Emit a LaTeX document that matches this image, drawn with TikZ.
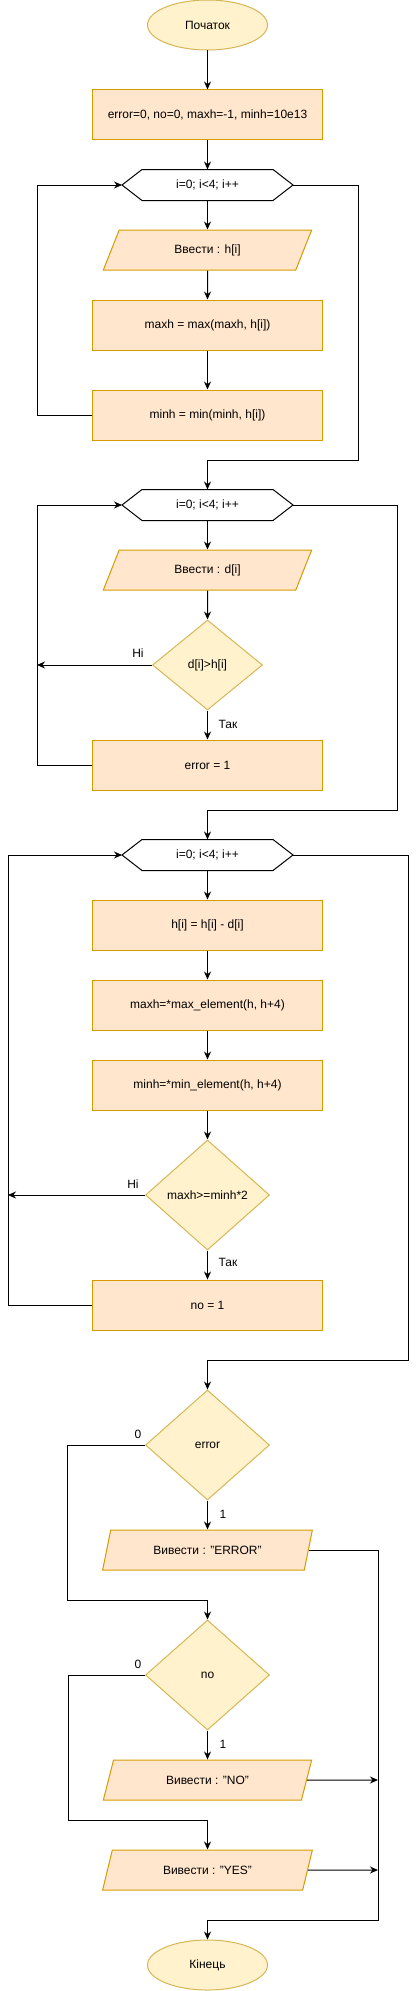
\documentclass[tikz,border=0pt]{standalone}
\usepackage{fontspec}
\setmainfont{Liberation Sans}
\usetikzlibrary{shapes.geometric,arrows.meta}
\definecolor{pfill}{HTML}{FFE6CC}
\definecolor{pline}{HTML}{D79B00}
\definecolor{cfill}{HTML}{FFF2CC}
\definecolor{cline}{HTML}{D6B656}
\begin{document}
\begin{tikzpicture}[x=1pt,y=-1pt,line width=1pt,>={Stealth[length=8pt,width=7pt]},
	every node/.style={font=\fontsize{12}{14}\selectfont,inner sep=0pt},
	term/.style={ellipse,draw=cline,fill=cfill,minimum width=120pt,minimum height=50pt},
	proc/.style={rectangle,draw=pline,fill=pfill,minimum width=230pt,minimum height=50pt},
	io/.style={trapezium,trapezium left angle=62,trapezium right angle=118,trapezium stretches=true,draw=pline,fill=pfill,minimum width=210pt,minimum height=40pt},
	cond/.style={diamond,draw=cline,fill=cfill,minimum width=124pt,minimum height=110pt},
	cyc/.style={rectangle,minimum width=170pt,minimum height=30pt}]
\useasboundingbox (0,0) rectangle (418,1991);
\node [term] (st) at (207.5,25) {Початок};
\node [proc] (ini) at (207.5,115) {error=0, no=0, maxh=-1, minh=10e13};
\node [cyc] (f1) at (207.5,185) {i=0; i<4; i++};
\node [io] (in1) at (207.5,250) {Ввести : h[i]};
\node [proc] (mx1) at (207.5,325) {maxh = max(maxh, h[i])};
\node [proc] (mn1) at (207.5,415) {minh = min(minh, h[i])};
\node [cyc] (f2) at (207.5,505) {i=0; i<4; i++};
\node [io] (in2) at (207.5,570) {Ввести : d[i]};
\node [cond,minimum width=110pt,minimum height=90pt] (c1) at (207.5,665) {d[i]>h[i]};
\node [proc] (er) at (207.5,765) {error = 1};
\node [cyc] (f3) at (207.5,855) {i=0; i<4; i++};
\node [proc] (sub) at (207.5,925) {h[i] = h[i] - d[i]};
\node [proc] (mx2) at (207.5,1005) {maxh=*max\_element(h, h+4)};
\node [proc] (mn2) at (207.5,1085) {minh=*min\_element(h, h+4)};
\node [cond] (c2) at (207.5,1195) {maxh>=minh*2};
\node [proc] (no) at (207.5,1305) {no = 1};
\node [cond] (c3) at (207.5,1445) {error};
\node [io] (oe) at (207.5,1550) {Вивести : "ERROR"};
\node [cond] (c4) at (207.5,1675) {no};
\node [io] (ono) at (207.5,1780) {Вивести : "NO"};
\node [io] (oy) at (207.5,1870) {Вивести : "YES"};
\node [term] (en) at (207.5,1965) {Кінець};
\foreach \h in {f1,f2,f3}
	\draw (\h.west) -- ([xshift=20pt]\h.north west) -- ([xshift=-20pt]\h.north east) -- (\h.east)
		-- ([xshift=-20pt]\h.south east) -- ([xshift=20pt]\h.south west) -- cycle;
\node (l1) at ([shift={(-14,-12)}]c1.west) {Ні};
\node (l2) at ([shift={(20.5,14)}]c1.south) {Так};
\node (l3) at ([shift={(-12,-11)}]c2.west) {Ні};
\node (l4) at ([shift={(20.5,12)}]c2.south) {Так};
\node (l5) at ([shift={(-7,-11)}]c3.west) {0};
\node (l6) at ([shift={(15.5,14)}]c3.south) {1};
\node (l7) at ([shift={(-7,-11)}]c4.west) {0};
\node (l8) at ([shift={(15.5,14)}]c4.south) {1};
\coordinate (r1) at (378,1780);
\coordinate (r2) at (378,1870);
\draw[->] (st) -- (ini);
\draw[->] (ini) -- (f1);
\draw[->] (f1) -- (in1);
\draw[->] (in1) -- (mx1);
\draw[->] (mx1) -- (mn1);
\draw[->] (mn1.west) -- ++(-55,0) |- (f1.west);
\draw[->] (f1.east) -| (358,460) -| (f2.north);
\draw[->] (f2) -- (in2);
\draw[->] (in2) -- (c1);
\draw[->] (c1) -- (er);
\draw[->] (c1.west) -- ++(-115,0);
\draw[->] (er.west) -- ++(-55,0) |- (f2.west);
\draw[->] (f2.east) -| (397,810) -| (f3.north);
\draw[->] (f3) -- (sub);
\draw[->] (sub) -- (mx2);
\draw[->] (mx2) -- (mn2);
\draw[->] (mn2) -- (c2);
\draw[->] (c2) -- (no);
\draw[->] (c2.west) -- ++(-137,0);
\draw[->] (no.west) -- ++(-84,0) |- (f3.west);
\draw[->] (f3.east) -| (408,1360) -| (c3.north);
\draw[->] (c3) -- (oe);
\draw[->] (c3.west) -| (67,1600) -| (c4.north);
\draw[->] (oe.east) -| (378,1920) -| (en.north);
\draw[->] (c4) -- (ono);
\draw[->] (c4.west) -| (68,1820) -| (oy.north);
\draw[->] (ono.east) -- (r1);
\draw[->] (oy.east) -- (r2);
\end{tikzpicture}
\end{document}
